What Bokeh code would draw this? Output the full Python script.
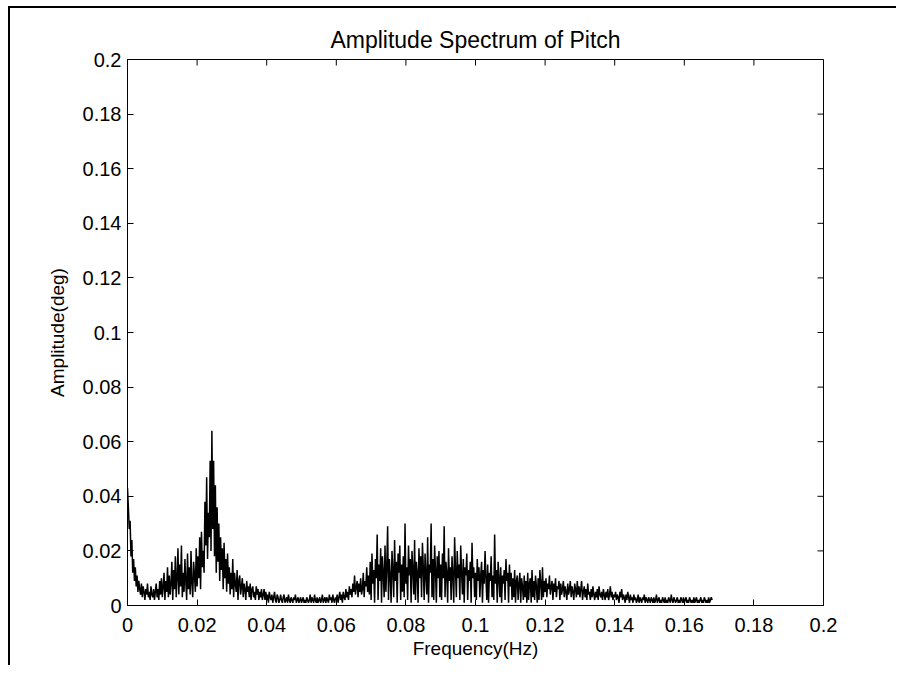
import numpy as np
from bokeh.plotting import figure
from bokeh.models import Range1d, FixedTicker
from bokeh.embed import file_html
from bokeh.resources import INLINE

# Amplitude spectrum values (unit: 0.001 deg),
# one row per 0.01 Hz, bins every 0.00025 Hz
amp_row_00 = [43, 36, 28, 31, 18, 24, 12, 17, 9, 14, 7, 11, 5, 9, 6, 4, 8, 3, 7, 5,
              2, 6, 4, 8, 3, 5, 2, 7, 4, 3, 6, 2, 5, 8, 3, 6, 2, 9, 4, 10]
amp_row_01 = [3, 7, 12, 2, 9, 5, 14, 3, 11, 4, 8, 16, 2, 13, 6, 18, 3, 10, 21, 4,
              15, 7, 22, 3, 12, 5, 17, 9, 2, 19, 6, 14, 4, 20, 8, 3, 16, 11, 5, 21]
amp_row_02 = [7, 18, 10, 25, 6, 27, 14, 20, 12, 38, 22, 47, 17, 34, 25, 53, 20, 64, 28, 53,
              18, 44, 12, 36, 16, 30, 9, 25, 13, 21, 6, 23, 10, 17, 5, 19, 8, 14, 4, 12]
amp_row_03 = [6, 17, 3, 12, 8, 5, 13, 2, 9, 11, 4, 7, 10, 3, 8, 6, 2, 9, 5, 7,
              3, 8, 2, 6, 7, 3, 5, 2, 7, 4, 6, 2, 5, 3, 6, 2, 4, 6, 2, 5]
amp_row_04 = [2, 4, 1, 5, 3, 2, 4, 1, 3, 5, 2, 1, 4, 3, 1, 2, 4, 2, 1, 3,
              4, 1, 2, 3, 1, 4, 2, 1, 3, 2, 1, 3, 2, 4, 1, 2, 3, 1, 2, 3]
amp_row_05 = [1, 2, 3, 1, 2, 1, 3, 2, 1, 2, 4, 1, 3, 2, 1, 4, 2, 1, 3, 1,
              2, 3, 1, 2, 4, 1, 2, 3, 1, 3, 2, 1, 4, 2, 3, 1, 4, 2, 1, 3]
amp_row_06 = [2, 4, 1, 3, 5, 2, 4, 1, 5, 3, 2, 6, 3, 5, 2, 7, 4, 6, 3, 8,
              5, 11, 4, 7, 9, 3, 8, 5, 10, 4, 6, 12, 3, 9, 7, 14, 5, 11, 4, 16]
amp_row_07 = [2, 19, 8, 13, 1, 17, 10, 26, 2, 15, 9, 21, 1, 18, 12, 3, 22, 5, 14, 29,
              2, 17, 11, 1, 20, 13, 3, 24, 9, 16, 1, 19, 12, 22, 2, 15, 5, 18, 3, 30]
amp_row_08 = [8, 14, 2, 22, 11, 17, 1, 20, 13, 4, 24, 2, 16, 12, 1, 21, 10, 18, 3, 23,
              14, 2, 19, 11, 4, 25, 1, 15, 12, 30, 3, 17, 2, 22, 13, 1, 18, 10, 20, 3]
amp_row_09 = [15, 2, 19, 10, 29, 3, 16, 12, 1, 21, 9, 14, 2, 18, 11, 1, 25, 13, 3, 20,
              10, 15, 2, 22, 12, 4, 17, 1, 14, 11, 19, 2, 13, 9, 16, 1, 23, 10, 14, 3]
amp_row_10 = [12, 2, 17, 9, 14, 3, 11, 16, 1, 13, 8, 20, 10, 2, 15, 1, 12, 9, 18, 3,
              11, 2, 26, 8, 13, 1, 16, 10, 3, 14, 1, 11, 8, 13, 2, 17, 9, 12, 1, 15]
amp_row_11 = [7, 12, 2, 10, 3, 13, 1, 9, 11, 2, 8, 12, 1, 10, 7, 2, 11, 3, 9, 1,
              12, 2, 8, 10, 1, 13, 3, 9, 2, 11, 7, 1, 10, 2, 13, 8, 2, 14, 3, 9]
amp_row_12 = [5, 10, 3, 8, 6, 11, 4, 7, 9, 2, 8, 5, 10, 3, 7, 6, 9, 2, 8, 4,
              6, 9, 3, 7, 5, 2, 8, 4, 6, 9, 3, 7, 5, 2, 8, 6, 3, 9, 4, 7]
amp_row_13 = [3, 6, 9, 2, 5, 7, 3, 6, 2, 8, 4, 5, 2, 6, 3, 7, 4, 2, 5, 3,
              6, 2, 7, 4, 3, 5, 2, 6, 4, 2, 5, 3, 6, 2, 4, 7, 3, 5, 2, 4]
amp_row_14 = [3, 5, 2, 4, 3, 1, 5, 3, 6, 2, 4, 3, 1, 4, 2, 5, 3, 1, 4, 2,
              3, 1, 4, 2, 3, 1, 2, 4, 1, 3, 2, 1, 3, 2, 4, 1, 3, 2, 1, 3]
amp_row_15 = [2, 1, 3, 2, 1, 3, 1, 2, 4, 1, 2, 3, 1, 2, 1, 3, 2, 1, 3, 1,
              2, 1, 3, 2, 1, 4, 2, 1, 3, 2, 1, 2, 3, 1, 2, 1, 3, 2, 1, 3]
amp_row_16 = [1, 2, 3, 1, 2, 1, 3, 2, 1, 2, 1, 3, 1, 2, 3, 1, 2, 1, 2, 3,
              1, 2, 1, 3, 2, 1, 2, 1, 3, 1, 2, 3, 2]

freq_step = 0.00025  # Hz between spectrum bins
tick_values = [0, 0.02, 0.04, 0.06, 0.08, 0.1, 0.12, 0.14, 0.16, 0.18, 0.2]
tick_labels = ["0", "0.02", "0.04", "0.06", "0.08", "0.1", "0.12", "0.14", "0.16", "0.18", "0.2"]
axis_min, axis_max = 0.0, 0.2

amp_milli = (amp_row_00 + amp_row_01 + amp_row_02 + amp_row_03 + amp_row_04 + amp_row_05
             + amp_row_06 + amp_row_07 + amp_row_08 + amp_row_09 + amp_row_10 + amp_row_11
             + amp_row_12 + amp_row_13 + amp_row_14 + amp_row_15 + amp_row_16)
amplitude = np.array(amp_milli, dtype=float) / 1000.0
frequency = np.arange(len(amplitude)) * freq_step

FONT = "Liberation Sans"

p = figure(
    frame_width=696, frame_height=546,
    min_border_left=117, min_border_right=73, min_border_top=51, min_border_bottom=60,
    x_range=Range1d(axis_min, axis_max), y_range=Range1d(axis_min, axis_max),
    output_backend="svg", toolbar_location=None,
    title="Amplitude Spectrum of Pitch",
)
p.styles = {"border-top": "2px solid black", "border-left": "2px solid black",
            "margin-left": "8px", "margin-top": "6px"}
p.background_fill_color = "white"
p.border_fill_color = "white"
p.outline_line_color = "black"
p.outline_line_width = 1
p.grid.visible = False

p.title.align = "center"
p.title.text_font = FONT
p.title.text_font_size = "23px"
p.title.text_font_style = "normal"
p.title.text_color = "black"
p.title.standoff = 13

p.line(frequency, amplitude, line_color="black", line_width=1.5)

# inward ticks on the top and right edges (MATLAB box style); half of each dash is clipped by the frame
n_ticks = len(tick_values)
p.scatter(x=tick_values, y=[axis_max] * n_ticks, marker="dash", angle=np.pi / 2,
          size=12, line_color="black", line_width=1)
p.scatter(x=[axis_max] * n_ticks, y=tick_values, marker="dash", angle=0,
          size=12, line_color="black", line_width=1)

ticker = FixedTicker(ticks=tick_values)
overrides = {v: s for v, s in zip(tick_values, tick_labels)}

for ax in (p.xaxis[0], p.yaxis[0]):
    ax.ticker = ticker
    ax.axis_line_color = "black"
    ax.major_tick_line_color = "black"
    ax.major_tick_in = 6
    ax.major_tick_out = 0
    ax.minor_tick_line_color = None
    ax.major_label_overrides = overrides
    ax.major_label_text_font = FONT
    ax.major_label_text_color = "black"
    ax.major_label_text_font_size = "20px"
    ax.axis_label_text_font = FONT
    ax.axis_label_text_font_style = "normal"
    ax.axis_label_text_color = "black"
    ax.axis_label_text_font_size = "19px"

p.xaxis[0].axis_label = "Frequency(Hz)"
p.yaxis[0].axis_label = "Amplitude(deg)"
p.xaxis[0].major_label_standoff = 12
p.yaxis[0].major_label_standoff = 6
p.xaxis[0].axis_label_standoff = 3
p.yaxis[0].axis_label_standoff = 12

open("out.html", "w").write(file_html(p, INLINE))
